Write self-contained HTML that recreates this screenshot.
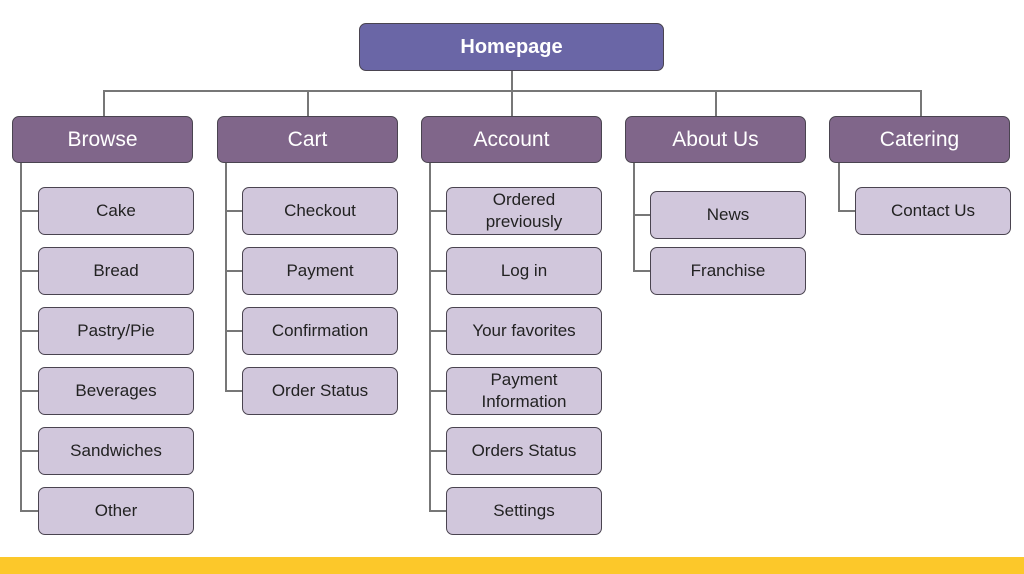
<!DOCTYPE html>
<html><head><meta charset="utf-8"><style>
body{margin:0;width:1024px;height:574px;background:#fff;position:relative;overflow:hidden;font-family:"Liberation Sans",sans-serif}
.b{position:absolute;box-sizing:border-box;border:1.5px solid #4a4450;border-radius:7px;display:flex;align-items:center;justify-content:center;text-align:center;line-height:22px}
.h{background:#6a66a6;color:#fff;font-weight:bold;font-size:20px}
.p{background:#80668a;color:#fff;font-size:21px;width:181px;height:47px;top:116px}
.c{background:#d1c7dc;color:#222;font-size:17px;width:156px;height:48px}
.l{position:absolute;background:#777}
</style></head><body>
<div class="b h" style="left:359px;top:23px;width:305px;height:48px">Homepage</div>
<div class="l" style="left:511px;top:71px;width:1.5px;height:19px"></div>
<div class="l" style="left:103px;top:90px;width:818px;height:1.5px"></div>
<div class="l" style="left:103px;top:90px;width:1.5px;height:26px"></div>
<div class="l" style="left:307px;top:90px;width:1.5px;height:26px"></div>
<div class="l" style="left:511px;top:90px;width:1.5px;height:26px"></div>
<div class="l" style="left:715px;top:90px;width:1.5px;height:26px"></div>
<div class="l" style="left:920px;top:90px;width:1.5px;height:26px"></div>

<div class="b p" style="left:12px">Browse</div>
<div class="b p" style="left:217px">Cart</div>
<div class="b p" style="left:421px">Account</div>
<div class="b p" style="left:625px">About Us</div>
<div class="b p" style="left:829px">Catering</div>

<!-- Browse -->
<div class="l" style="left:20px;top:163px;width:1.5px;height:348px"></div>
<div class="l" style="left:20px;top:210px;width:18px;height:1.5px"></div>
<div class="l" style="left:20px;top:270px;width:18px;height:1.5px"></div>
<div class="l" style="left:20px;top:330px;width:18px;height:1.5px"></div>
<div class="l" style="left:20px;top:390px;width:18px;height:1.5px"></div>
<div class="l" style="left:20px;top:450px;width:18px;height:1.5px"></div>
<div class="l" style="left:20px;top:510px;width:18px;height:1.5px"></div>
<div class="b c" style="left:38px;top:187px">Cake</div>
<div class="b c" style="left:38px;top:247px">Bread</div>
<div class="b c" style="left:38px;top:307px">Pastry/Pie</div>
<div class="b c" style="left:38px;top:367px">Beverages</div>
<div class="b c" style="left:38px;top:427px">Sandwiches</div>
<div class="b c" style="left:38px;top:487px">Other</div>

<!-- Cart -->
<div class="l" style="left:225px;top:163px;width:1.5px;height:228px"></div>
<div class="l" style="left:225px;top:210px;width:17px;height:1.5px"></div>
<div class="l" style="left:225px;top:270px;width:17px;height:1.5px"></div>
<div class="l" style="left:225px;top:330px;width:17px;height:1.5px"></div>
<div class="l" style="left:225px;top:390px;width:17px;height:1.5px"></div>
<div class="b c" style="left:242px;top:187px">Checkout</div>
<div class="b c" style="left:242px;top:247px">Payment</div>
<div class="b c" style="left:242px;top:307px">Confirmation</div>
<div class="b c" style="left:242px;top:367px">Order Status</div>

<!-- Account -->
<div class="l" style="left:429px;top:163px;width:1.5px;height:348px"></div>
<div class="l" style="left:429px;top:210px;width:17px;height:1.5px"></div>
<div class="l" style="left:429px;top:270px;width:17px;height:1.5px"></div>
<div class="l" style="left:429px;top:330px;width:17px;height:1.5px"></div>
<div class="l" style="left:429px;top:390px;width:17px;height:1.5px"></div>
<div class="l" style="left:429px;top:450px;width:17px;height:1.5px"></div>
<div class="l" style="left:429px;top:510px;width:17px;height:1.5px"></div>
<div class="b c" style="left:446px;top:187px">Ordered<br>previously</div>
<div class="b c" style="left:446px;top:247px">Log in</div>
<div class="b c" style="left:446px;top:307px">Your favorites</div>
<div class="b c" style="left:446px;top:367px">Payment<br>Information</div>
<div class="b c" style="left:446px;top:427px">Orders Status</div>
<div class="b c" style="left:446px;top:487px">Settings</div>

<!-- About -->
<div class="l" style="left:633px;top:163px;width:1.5px;height:108px"></div>
<div class="l" style="left:633px;top:214px;width:17px;height:1.5px"></div>
<div class="l" style="left:633px;top:270px;width:17px;height:1.5px"></div>
<div class="b c" style="left:650px;top:191px">News</div>
<div class="b c" style="left:650px;top:247px">Franchise</div>

<!-- Catering -->
<div class="l" style="left:838px;top:163px;width:1.5px;height:48px"></div>
<div class="l" style="left:838px;top:210px;width:17px;height:1.5px"></div>
<div class="b c" style="left:855px;top:187px">Contact Us</div>

<div style="position:absolute;left:0;top:557px;width:1024px;height:17px;background:#fcc82a"></div>
</body></html>
